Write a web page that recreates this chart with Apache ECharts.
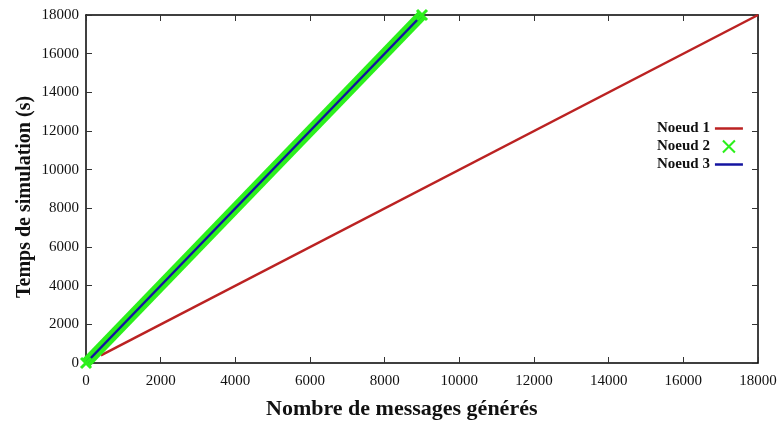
<!DOCTYPE html>
<html><head><meta charset="utf-8">
<script src="https://cdn.jsdelivr.net/npm/echarts@6/dist/echarts.min.js"></script>
<style>html,body{margin:0;padding:0;background:#fff}#c{width:781px;height:426px}</style>
</head><body><div id="c"></div>
<script>
const xTicks = [0,2000,4000,6000,8000,10000,12000,14000,16000,18000];
const yTicks = [0,2000,4000,6000,8000,10000,12000,14000,16000,18000];
const seriesNames = ['Noeud 1','Noeud 2','Noeud 3'];
const xTitle = 'Nombre de messages générés';
const yTitle = 'Temps de simulation (s)';
const node1X = [400, 18000];
const node1Y = [400, 18000];
const node2X = [0, 9000];
const node2Y = [0, 18000];
const node3X = [0, 9000];
const node3Y = [0, 18000];

const pair = (xs, ys) => xs.map((x, i) => [x, ys[i]]);
const font = 'Liberation Serif';
const xPath = 'path://M0,0L10,10M10,0L0,10';
function mkAxis(ticks, extra) {
  return Object.assign({
    type: 'value',
    min: ticks[0], max: ticks[ticks.length - 1], interval: ticks[1] - ticks[0],
    axisLine: {show: true, onZero: false, lineStyle: {color: '#000', width: 1.5}},
    axisTick: {show: true, inside: true, length: 6, lineStyle: {color: '#333', width: 1}},
    splitLine: {show: false}
  }, extra);
}
const labelStyle = {fontFamily: font, fontSize: 15, color: '#111', formatter: v => String(v)};
const chart = echarts.init(document.getElementById('c'));
chart.setOption({
  animation: false,
  backgroundColor: '#fff',
  grid: {left: 86, right: 23, top: 15, bottom: 63},
  legend: {
    left: 652, top: 116, orient: 'vertical', align: 'right', itemGap: 3,
    itemWidth: 28, itemHeight: 12,
    textStyle: {fontFamily: font, fontWeight: 'bold', fontSize: 15, color: '#111'},
    data: [
      {name: 'Noeud 1', icon: 'path://M0,0L28,0L28,2.5L0,2.5Z'},
      {name: 'Noeud 2', icon: 'path://M10,1L16,7M16,1L10,7'},
      {name: 'Noeud 3', icon: 'path://M0,0L28,0L28,2.5L0,2.5Z'}
    ]
  },
  graphic: [
    {type: 'text', left: 266, top: 398,
      style: {text: xTitle, fontFamily: font, fontWeight: 'bold', fontSize: 22, fill: '#111'}},
    {type: 'text', x: 15, y: 298, rotation: Math.PI / 2, originX: 0, originY: 0,
      style: {text: yTitle, fontFamily: font, fontWeight: 'bold', fontSize: 20, fill: '#111',
        textAlign: 'left', textVerticalAlign: 'top'}}
  ],
  xAxis: [
    mkAxis(xTicks, {position: 'bottom', axisLabel: Object.assign({margin: 11}, labelStyle)}),
    mkAxis(xTicks, {position: 'top', axisLabel: {show: false}})
  ],
  yAxis: [
    mkAxis(yTicks, {position: 'left', axisLabel: Object.assign({margin: 7}, labelStyle)}),
    mkAxis(yTicks, {position: 'right', axisLabel: {show: false}})
  ],
  series: [
    {name: seriesNames[0], type: 'line', data: pair(node1X, node1Y), showSymbol: false,
      itemStyle: {color: '#bb2222'}, lineStyle: {color: '#bb2222', width: 2.5}},
    {name: seriesNames[1], type: 'line', data: pair(node2X, node2Y), symbol: xPath, symbolSize: 10,
      itemStyle: {color: '#2cf01c', borderColor: '#2cf01c', borderWidth: 3},
      lineStyle: {color: '#2cf01c', width: 11}},
    {name: seriesNames[2], type: 'line', data: pair(node3X, node3Y), showSymbol: false,
      itemStyle: {color: '#1414a0'}, lineStyle: {color: '#1414a0', width: 2.5}},
    {type: 'line', xAxisIndex: 1, yAxisIndex: 1, data: pair(node3X, node3Y), silent: true,
      showSymbol: false, lineStyle: {opacity: 0}, z: 0}
  ]
});
</script></body></html>
